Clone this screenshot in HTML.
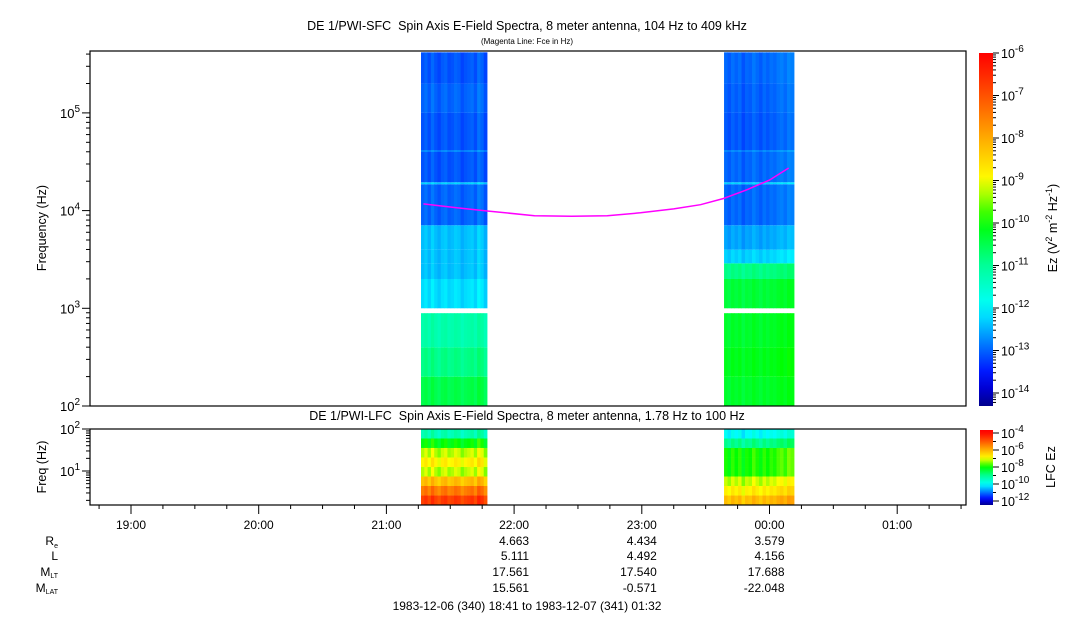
<!DOCTYPE html>
<html><head><meta charset="utf-8">
<style>
html,body{margin:0;padding:0;background:#fff;}
svg{display:block;font-family:"Liberation Sans",sans-serif;}
</style></head>
<body>
<svg id="chart" width="1083" height="620" viewBox="0 0 1083 620" xmlns="http://www.w3.org/2000/svg">
<text x="527" y="30" font-size="12.5" text-anchor="middle">DE 1/PWI-SFC&#160; Spin Axis E-Field Spectra, 8 meter antenna, 104 Hz to 409 kHz</text>
<text x="527" y="44" font-size="8" text-anchor="middle">(Magenta Line: Fce in Hz)</text>
<text x="527" y="420" font-size="12.5" text-anchor="middle">DE 1/PWI-LFC&#160; Spin Axis E-Field Spectra, 8 meter antenna, 1.78 Hz to 100 Hz</text>
<text transform="translate(46,228) rotate(-90)" font-size="12.5" text-anchor="middle">Frequency (Hz)</text>
<text transform="translate(46,467) rotate(-90)" font-size="12.5" text-anchor="middle">Freq (Hz)</text>
<text transform="translate(1057,228) rotate(-90)" font-size="12.5" text-anchor="middle">Ez (V<tspan dy="-5" font-size="9">2</tspan><tspan dy="5"> m</tspan><tspan dy="-5" font-size="9">-2</tspan><tspan dy="5"> Hz</tspan><tspan dy="-5" font-size="9">-1</tspan><tspan dy="5">)</tspan></text>
<text transform="translate(1055,467) rotate(-90)" font-size="12.5" text-anchor="middle">LFC Ez</text>
<g id="layer"></g>
<g font-size="12" text-anchor="end">
<text x="58" y="545">R<tspan font-size="7" dy="3">e</tspan></text>
<text x="58" y="560">L</text>
<text x="58" y="576">M<tspan font-size="7" dy="2">LT</tspan></text>
<text x="58" y="592">M<tspan font-size="7" dy="2">LAT</tspan></text>
</g>
<text x="527" y="610" font-size="12" text-anchor="middle">1983-12-06 (340) 18:41 to 1983-12-07 (341) 01:32</text>
</svg>
<script>
// ---- data ----
const bandLo = [2.0, 2.3, 2.6, 3.0, 3.3, 3.46, 3.6, 3.85, 4.27, 4.29, 4.6, 4.62, 5.0, 5.3];
const bandHi = [2.3, 2.6, 2.95, 3.3, 3.46, 3.6, 3.85, 4.27, 4.29, 4.6, 4.62, 5.0, 5.3, 5.62];
const block1Vals = [-10.5, -10.9, -11.2, -12.2, -12.4, -12.4, -12.4, -13.0, -12.3, -13.1, -12.8, -13.1, -13.0, -13.1];
const block2Vals = [-10.3, -10.2, -10.3, -10.4, -10.9, -12.3, -12.6, -13.0, -12.3, -13.0, -12.8, -13.1, -13.05, -13.0];
const blockStart = [21.271, 23.644];
const blockEnd = [21.788, 24.192];
const colOffset1 = [0, 0.1, -0.05, 0.15, 0, -0.1, 0.05, 0.1, -0.05, 0, 0.1, 0.05, -0.1, 0, 0.05, 0.1, -0.05, 0.2, 0.1, -0.1];
const colOffset2 = [0.05, -0.05, 0.1, 0, 0.1, -0.1, 0.05, 0, 0.15, 0.05, -0.05, 0.1, 0, 0.1, 0.05, 0.15, 0.2, 0.1, 0.25, 0.2];
const lfcLo = [1.774, 1.548, 1.321, 1.095, 0.869, 0.643, 0.416, 0.19];
const lfcHi = [2.0, 1.774, 1.548, 1.321, 1.095, 0.869, 0.643, 0.416];
const lfc1Vals = [-9.3, -8.1, -7.3, -6.9, -7.3, -6.3, -5.5, -4.8];
const lfc2Vals = [-10.0, -9.0, -8.0, -8.0, -8.0, -7.3, -6.9, -6.3];
const fceHours = [21.29, 21.55, 21.79, 22.16, 22.45, 22.73, 22.99, 23.25, 23.46, 23.64, 23.82, 24.0, 24.15];
const fceVals = [11700, 10700, 9900, 8870, 8750, 8870, 9500, 10400, 11500, 13300, 16300, 20500, 27300];
const timeTickLabels = ["19:00", "20:00", "21:00", "22:00", "23:00", "00:00", "01:00"];
const ephemHours = [22, 23, 24];
const ephemRe = ["4.663", "4.434", "3.579"];
const ephemL = ["5.111", "4.492", "4.156"];
const ephemMLT = ["17.561", "17.540", "17.688"];
const ephemMLAT = ["15.561", "-0.571", "-22.048"];
const cbTicks = [-6, -7, -8, -9, -10, -11, -12, -13, -14];
const lfcCbTicks = [-4, -6, -8, -10, -12];

// ---- axes ----
const X0 = 90, X1 = 966;
const xT = h => 131 + (h - 19) * 127.7;
const yF = lf => 406 - (lf - 2) * 97.7;
const yL = lf => 471 - (lf - 1) * 42;
const yCB = v => 53 + (-6 - v) * 42.5;
const yLCB = v => 433 + (-4 - v) * 8.5;
const stops = [[0,[0,0,140]],[0.08,[0,0,255]],[0.28,[0,255,255]],[0.40,[0,255,150]],[0.52,[0,255,0]],[0.64,[255,255,0]],[0.76,[255,170,0]],[0.88,[255,80,0]],[1,[255,0,0]]];
function cmap(t){t=Math.max(0,Math.min(1,t));for(let i=1;i<stops.length;i++){if(t<=stops[i][0]){const a=stops[i-1],b=stops[i];const f=(t-a[0])/(b[0]-a[0]);return 'rgb('+a[1].map((c,k)=>Math.round(c+(b[1][k]-c)*f)).join(',')+')';}}return 'rgb(255,0,0)';}
const cMain = v => cmap((v + 14.3) / 8.3);
const cLfc = v => cmap((v + 12.3) / 8.3);

const NS = 'http://www.w3.org/2000/svg';
const layer = document.getElementById('layer');
function mk(tag, attrs, parent){const e=document.createElementNS(NS,tag);for(const k in attrs)e.setAttribute(k,attrs[k]);(parent||layer).appendChild(e);return e;}

const offsets = [colOffset1, colOffset2];
const mainVals = [block1Vals, block2Vals];
const lfcVals = [lfc1Vals, lfc2Vals];
for (let b = 0; b < 2; b++) {
  const g = mk('g', {});
  
  
  const gl = mk('g', {});
  
  
  const off = offsets[b], n = off.length;
  const xa = xT(blockStart[b]), xb = xT(blockEnd[b]), w = (xb - xa) / n;
  for (let c = 0; c < n; c++) {
    for (let i = 0; i < bandLo.length; i++) {
      const r = mk('rect', {x: xa + c * w, y: yF(bandHi[i]), width: w + 0.4, height: yF(bandLo[i]) - yF(bandHi[i]), fill: cMain(mainVals[b][i] + off[c])}, g);
      
      
    }
    for (let i = 0; i < lfcLo.length; i++) {
      const r = mk('rect', {x: xa + c * w, y: yL(lfcHi[i]), width: w + 0.4, height: yL(lfcLo[i]) - yL(lfcHi[i]), fill: cLfc(lfcVals[b][i] + off[c] * 2)}, gl);
      
      
    }
  }
}

const fce = mk('polyline', {points: fceHours.map((h, i) => xT(h).toFixed(1) + ',' + yF(Math.log10(fceVals[i])).toFixed(1)).join(' '), fill: 'none', stroke: '#ff00ff', 'stroke-width': 1.5});



const f1 = mk('rect', {x: X0, y: 51, width: X1 - X0, height: 355, fill: 'none', stroke: '#000', 'stroke-width': 1.2});


const f2 = mk('rect', {x: X0, y: 429, width: X1 - X0, height: 76, fill: 'none', stroke: '#000', 'stroke-width': 1.2});



function logTicks(yfun, lo, hi, decs, gname) {
  const g = mk('g', {stroke: '#000', 'stroke-width': 1});
  
  
  for (let d = Math.floor(lo); d <= hi; d++) for (let m = 1; m <= 9; m++) {
    const lf = d + Math.log10(m);
    if (lf < lo - 1e-6 || lf > hi + 1e-6) continue;
    const y = yfun(lf);
    mk('line', {x1: X0 - (m === 1 ? 8 : 4), x2: X0, y1: y, y2: y}, g);
  }
  decs.forEach(d => {
    const t = mk('text', {x: X0 - 10, y: yfun(d) + 5, 'font-size': 13, 'text-anchor': 'end', stroke: 'none'}, g);
    t.innerHTML = '10<tspan dy="-6" font-size="10">' + d + '</tspan>';
  });
}
logTicks(yF, 2.0, 5.62, [2, 3, 4, 5], 'y-axis');
logTicks(yL, 0.19, 2.0, [1, 2], 'lfc-y-axis');

const gx = mk('g', {stroke: '#000'});


for (let q = 0; q * 0.25 + 18.75 <= 25.6; q++) {
  const h = 18.75 + q * 0.25, x = xT(h);
  if (x < X0 || x > X1) continue;
  const major = Math.abs(h - Math.round(h)) < 1e-6;
  mk('line', {x1: x, x2: x, y1: 505, y2: 505 + (major ? 9 : 4)}, gx);
}
timeTickLabels.forEach((lab, i) => {
  const t = mk('text', {x: xT(19 + i), y: 529, 'font-size': 12, 'text-anchor': 'middle', stroke: 'none'}, gx);
  t.textContent = lab;
});
const rows = [ephemRe, ephemL, ephemMLT, ephemMLAT], rowY = [545, 560, 576, 592];
rows.forEach((arr, r) => arr.forEach((v, i) => {
  const t = mk('text', {x: xT(ephemHours[i]) + 15, y: rowY[r], 'font-size': 12, 'text-anchor': 'end'});
  
  
  t.textContent = v;
}));

const defs = mk('defs', {});
function grad(id, fn, vTop, vBot) {
  const lg = mk('linearGradient', {id: id, x1: 0, y1: 0, x2: 0, y2: 1}, defs);
  for (let k = 0; k <= 20; k++) { const v = vTop + (vBot - vTop) * k / 20; mk('stop', {offset: k / 20, 'stop-color': fn(v)}, lg); }
}
grad('gMain', cMain, -6, -14.3);
grad('gLfc', cLfc, -3.8, -12.3);
const cb1 = mk('rect', {x: 979, y: 53, width: 14, height: 353, fill: 'url(#gMain)'});


const cb2 = mk('rect', {x: 980, y: 430, width: 13, height: 75, fill: 'url(#gLfc)'});


const gc = mk('g', {stroke: '#000'});


for (let d = -6; d >= -14.3; d--) for (let m = 1; m <= 9; m++) {
  const v = d - 1 + Math.log10(m); if (v < -14.3) continue;
  const y = yCB(v); mk('line', {x1: 993, x2: 993 + (m === 1 ? 6 : 3), y1: y, y2: y}, gc);
}
mk('line', {x1: 993, x2: 999, y1: yCB(-6), y2: yCB(-6)}, gc);
cbTicks.forEach(v => { const t = mk('text', {x: 1001, y: yCB(v) + 5, 'font-size': 12.5, stroke: 'none'}, gc); t.innerHTML = '10<tspan dy="-6" font-size="10">' + v + '</tspan>'; });
for (let v = -4; v >= -12; v--) { const y = yLCB(v); mk('line', {x1: 993, x2: 993 + (v % 2 === 0 ? 6 : 3), y1: y, y2: y}, gc); }
lfcCbTicks.forEach(v => { const t = mk('text', {x: 1001, y: yLCB(v) + 5, 'font-size': 12.5, stroke: 'none'}, gc); t.innerHTML = '10<tspan dy="-6" font-size="10">' + v + '</tspan>'; });
</script>
</body></html>
